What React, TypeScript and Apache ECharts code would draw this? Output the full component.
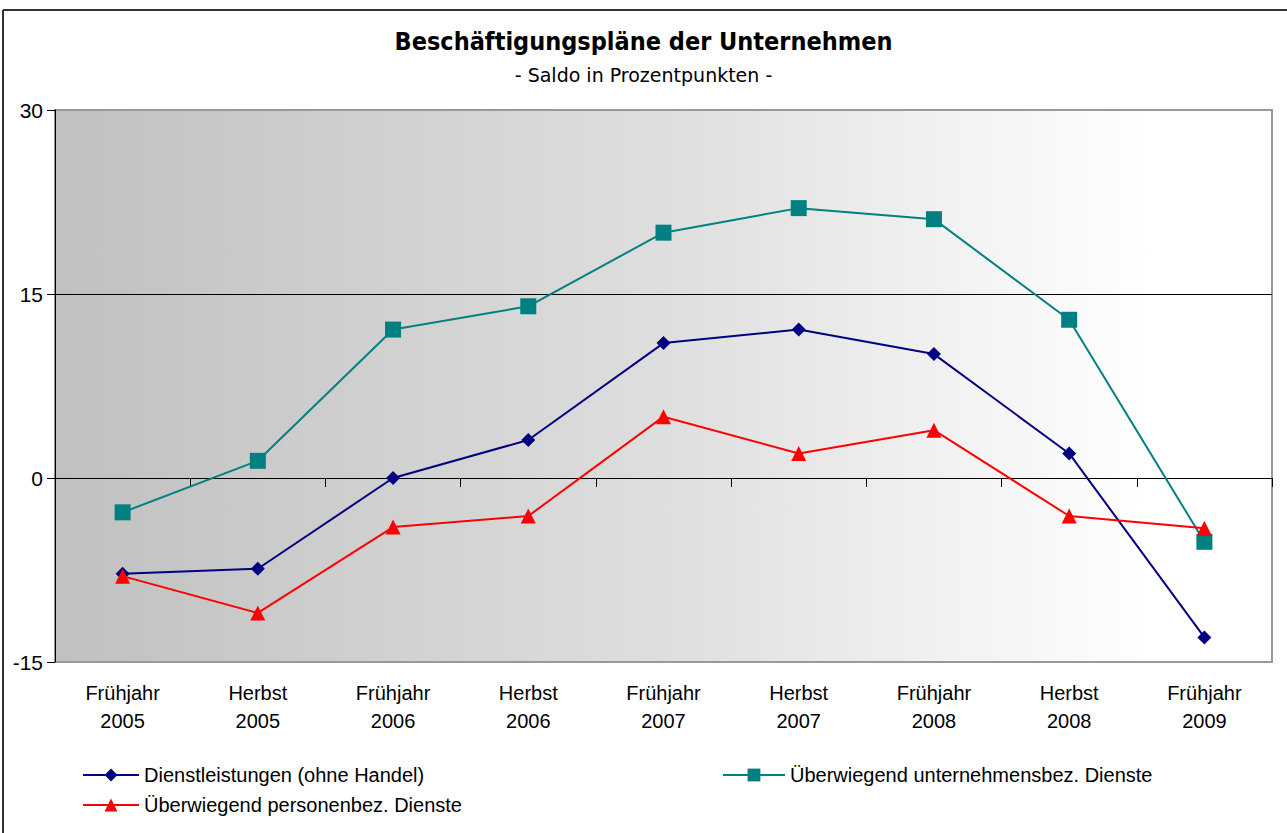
import React, { useEffect, useRef } from "react";
import * as echarts from "echarts";

const categories = [
  "Frühjahr\n2005", "Herbst\n2005", "Frühjahr\n2006", "Herbst\n2006", "Frühjahr\n2007",
  "Herbst\n2007", "Frühjahr\n2008", "Herbst\n2008", "Frühjahr\n2009",
];
const dienstleistungen = [-7.8, -7.4, 0, 3.1, 11.0, 12.1, 10.1, 2.0, -13.0];
const unternehmensbez = [-2.8, 1.4, 12.1, 14.0, 20.0, 22.0, 21.1, 12.9, -5.2];
const personenbez = [-8.0, -11.0, -4.0, -3.1, 5.0, 2.0, 3.9, -3.1, -4.1];

const nameD = "Dienstleistungen (ohne Handel)";
const nameU = "Überwiegend unternehmensbez. Dienste";
const nameP = "Überwiegend personenbez. Dienste";

export default function App() {
  const ref = useRef<HTMLDivElement>(null);
  useEffect(() => {
    document.body.style.margin = "0";
    const chart = echarts.init(ref.current!, null, { renderer: "svg" });
    const legendText = { fontFamily: "Liberation Sans, Arial, sans-serif", fontSize: 20, color: "#000" };
    const legendCommon = { itemWidth: 56, itemHeight: 16, itemGap: 5, padding: 0, textStyle: legendText };
    chart.setOption({
      animation: false,
      backgroundColor: "#fff",
      title: {
        text: "Beschäftigungspläne der Unternehmen",
        subtext: "- Saldo in Prozentpunkten -",
        left: "center",
        top: 24,
        itemGap: 11,
        textStyle: { fontFamily: "DejaVu Sans Condensed", fontWeight: "bold", fontSize: 25, color: "#000" },
        subtextStyle: { fontFamily: "DejaVu Sans", fontSize: 19, color: "#000" },
      },
      graphic: [
        { type: "line", shape: { x1: 3, y1: 10, x2: 1287, y2: 10 }, style: { stroke: "#333", lineWidth: 2 } },
        { type: "line", shape: { x1: 3, y1: 10, x2: 3, y2: 833 }, style: { stroke: "#333", lineWidth: 2 } },
      ],
      legend: [
        { data: [nameD], left: 82, top: 765, ...legendCommon },
        { data: [nameU], left: 722, top: 765, ...legendCommon, itemWidth: 62 },
        { data: [nameP], left: 82, top: 795, ...legendCommon },
      ],
      grid: {
        left: 55, right: 15, top: 110, bottom: 171,
        show: true,
        borderColor: "#999",
        borderWidth: 2,
        backgroundColor: new echarts.graphic.LinearGradient(0, 0, 1, 0, [
          { offset: 0, color: "#c0c0c0" },
          { offset: 0.5, color: "#dedede" },
          { offset: 0.9, color: "#ffffff" },
          { offset: 1, color: "#ffffff" },
        ]),
      },
      xAxis: [
        {
          type: "category",
          data: categories,
          position: "bottom",
          axisLine: { show: false, onZero: false },
          axisTick: { show: false },
          axisLabel: {
            margin: 17,
            lineHeight: 28,
            fontFamily: "Liberation Sans, Arial, sans-serif",
            fontSize: 20,
            color: "#000",
          },
        },
        {
          type: "category",
          data: categories,
          position: "bottom",
          axisLine: { show: true, onZero: true, lineStyle: { color: "#000", width: 1 } },
          axisTick: { show: true, length: 9, lineStyle: { color: "#000" } },
          axisLabel: { show: false },
        },
      ],
      yAxis: {
        type: "value",
        min: -15,
        max: 30,
        interval: 15,
        axisLine: { show: true, lineStyle: { color: "#000", width: 1 } },
        axisTick: { show: true, length: 8, lineStyle: { color: "#000" } },
        axisLabel: { margin: 12, fontFamily: "Liberation Sans, Arial, sans-serif", fontSize: 21, color: "#000" },
        splitLine: {
          show: true,
          lineStyle: { color: ["rgba(0,0,0,0)", "#000", "#000", "rgba(0,0,0,0)"], width: 1 },
        },
      },
      series: [
        {
          name: nameD, type: "line", data: dienstleistungen,
          symbol: "diamond", symbolSize: 14,
          lineStyle: { color: "#000080", width: 2 },
          itemStyle: { color: "#000080" },
          z: 3,
        },
        {
          name: nameU, type: "line", data: unternehmensbez,
          symbol: "rect", symbolSize: 16,
          lineStyle: { color: "#008080", width: 2 },
          itemStyle: { color: "#008080" },
          z: 2,
        },
        {
          name: nameP, type: "line", data: personenbez,
          symbol: "triangle", symbolSize: 15,
          lineStyle: { color: "#ff0000", width: 2 },
          itemStyle: { color: "#ff0000" },
          z: 4,
        },
      ],
    });
    return () => chart.dispose();
  }, []);
  return <div ref={ref} style={{ width: 1287, height: 833 }} />;
}
